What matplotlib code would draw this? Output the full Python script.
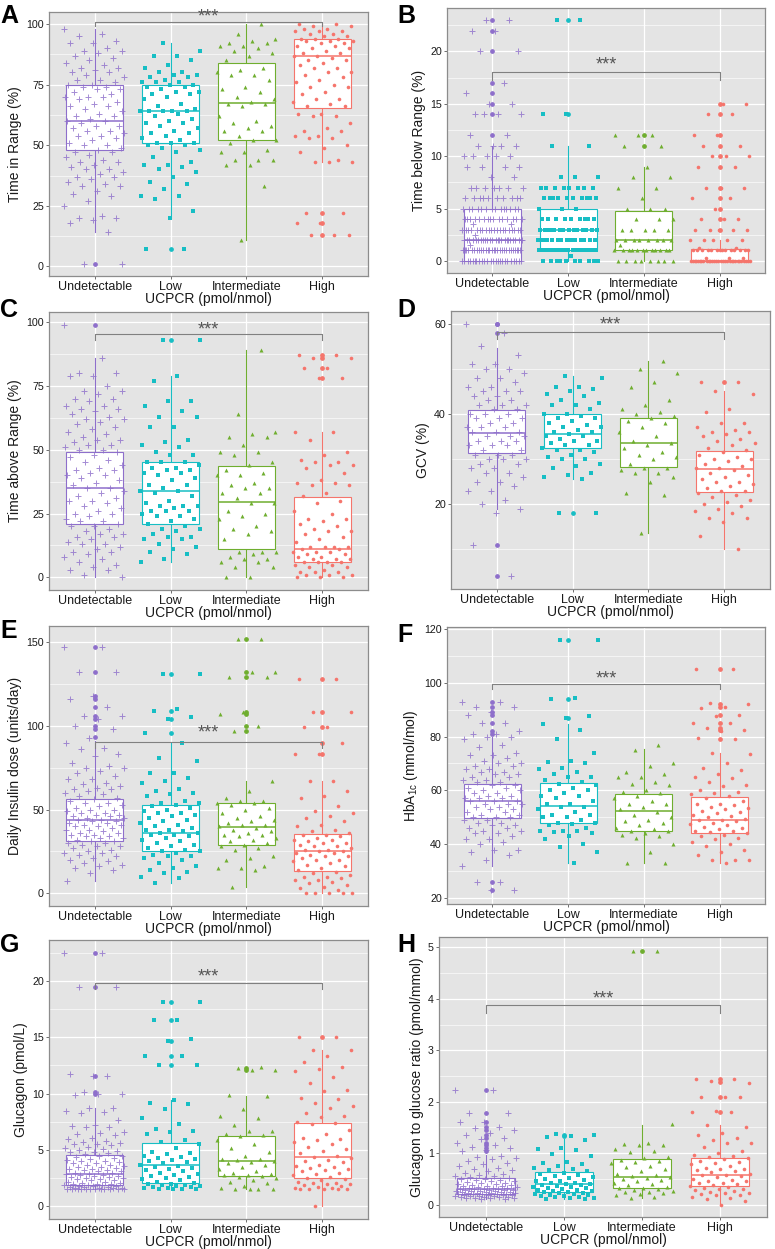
import numpy as np
import matplotlib.pyplot as plt

plt.rcParams['font.family'] = ['Liberation Sans', 'DejaVu Sans']
plt.rcParams['mathtext.fontset'] = 'custom'
plt.rcParams['mathtext.rm'] = 'Liberation Sans'

groups = ['Undetectable', 'Low', 'Intermediate', 'High']
colors = ['#8E6FCB', '#17BEC4', '#6FAE2F', '#F5756C']
markers = ['+', 's', '^', 'o']

# box stats per group: [whisker low, q1, median, q3, whisker high]
# ---------- A: time in range ----------
tir_und = [98, 96, 95, 93, 92, 92, 90, 89, 89, 88, 87, 86, 85, 84, 83, 82, 82, 81, 80, 80, 79, 78, 77, 77,
           76, 75, 75, 74, 74, 73, 73, 72, 71, 70, 70, 70, 69, 68, 67, 66, 66, 65, 64, 63, 62, 62, 61, 60,
           60, 59, 58, 58, 57, 56, 56, 55, 54, 54, 53, 52, 51, 50, 50, 49, 48, 47, 47, 46, 45, 44, 43, 43,
           42, 41, 40, 40, 39, 38, 37, 37, 36, 35, 34, 33, 33, 31, 30, 29, 27, 25, 21, 20, 20, 19, 18, 14, 1, 1]
tir_low = [92, 89, 87, 87, 85, 83, 82, 80, 80, 79, 79, 78, 78, 77, 76, 76, 76, 75, 75, 74, 74, 73, 72, 72,
           71, 71, 70, 69, 67, 66, 65, 64, 64, 64, 64, 64, 63, 62, 61, 60, 59, 59, 58, 57, 56, 55, 55, 54,
           53, 52, 51, 51, 51, 50, 50, 49, 48, 47, 45, 43, 42, 42, 41, 40, 39, 37, 35, 34, 32, 29, 29, 28,
           23, 20, 7, 7]
tir_int = [100, 96, 94, 93, 92, 92, 91, 91, 90, 89, 88, 87, 85, 82, 81, 80, 79, 79, 77, 74, 73, 72, 70,
           69, 68, 67, 67, 66, 62, 60, 59, 58, 57, 56, 56, 54, 52, 52, 51, 48, 47, 47, 44, 44, 44, 42, 42, 33, 11]
tir_high = [100, 100, 99, 99, 98, 98, 97, 97, 97, 96, 96, 95, 95, 94, 94, 94, 93, 93, 93, 92, 92, 91, 91,
            90, 90, 89, 88, 88, 87, 87, 86, 85, 85, 84, 83, 82, 82, 80, 80, 79, 78, 77, 76, 75, 74, 74, 72,
            71, 69, 69, 68, 67, 66, 66, 63, 63, 62, 62, 59, 57, 56, 56, 54, 54, 53, 53, 50, 49, 47, 44, 43,
            43, 43, 22, 22, 18, 18, 13, 13, 13]
tir_box = [[14, 48, 60, 75, 98], [20, 51, 64, 75, 92], [11, 52, 67.5, 84, 100], [43, 65.5, 87, 94, 100]]
tir_out = [[1], [7], [], [22, 18, 13]]

# ---------- B: time below range (integer values, with counts) ----------
tbr_und_vals = [0, 1, 1.5, 2, 2.5, 3, 3.5, 4, 5, 6, 7, 8, 9, 10, 11, 12, 14, 15, 16, 17, 20, 22, 23]
tbr_und_cnts = [24, 28, 1, 25, 1, 20, 2, 15, 14, 10, 7, 2, 4, 5, 4, 2, 4, 2, 1, 1, 2, 2, 2]
tbr_low_vals = [0, 0.5, 1, 2, 3, 4, 5, 6, 7, 8, 11, 14, 23]
tbr_low_cnts = [10, 1, 20, 14, 14, 9, 3, 10, 8, 3, 2, 2, 2]
tbr_int_vals = [0, 1, 1.5, 2, 3, 4, 5, 6, 7, 8, 9, 11, 12]
tbr_int_cnts = [8, 12, 1, 8, 5, 3, 3, 1, 2, 2, 1, 2, 3]
tbr_high_vals = [0, 0.3, 1, 1.2, 2, 3, 4, 5, 6, 7, 9, 10, 11, 12, 14, 15]
tbr_high_cnts = [30, 3, 14, 2, 5, 5, 3, 1, 2, 3, 2, 3, 2, 2, 2, 2]
tbr_box = [[0, 0, 2, 5, 11], [0, 1, 3, 5, 11], [0, 1, 2, 4.75, 9], [0, 0, 0, 1.1, 2]]
tbr_out = [[12, 14, 15, 16, 17, 20, 22, 23], [14, 23], [11, 12], [3, 4, 5, 6, 7, 9, 10, 11, 12, 14, 15]]

# ---------- C: time above range ----------
tar_und = [99, 86, 80, 80, 79, 79, 75, 73, 73, 72, 70, 70, 69, 67, 67, 66, 66, 65, 64, 63, 62, 62, 61, 60,
           59, 58, 57, 56, 55, 54, 54, 53, 52, 52, 51, 50, 50, 49, 48, 47, 46, 45, 44, 43, 42, 42, 41, 40,
           40, 39, 38, 37, 36, 35, 35, 34, 33, 32, 31, 30, 30, 29, 28, 27, 26, 25, 25, 24, 23, 22, 22, 21,
           20, 20, 19, 18, 17, 17, 16, 16, 15, 14, 13, 13, 12, 11, 10, 10, 9, 8, 7, 6, 5, 4, 3, 3, 1, 0]
tar_low = [93, 93, 79, 77, 69, 69, 67, 65, 63, 63, 59, 59, 54, 53, 52, 51, 49, 48, 48, 45, 45, 45, 44, 43,
           43, 42, 42, 41, 41, 40, 39, 38, 36, 36, 35, 34, 34, 33, 32, 30, 29, 28, 28, 28, 27, 26, 26, 26,
           25, 24, 24, 23, 22, 21, 20, 19, 19, 18, 17, 16, 16, 15, 15, 13, 12, 11, 10, 9, 7, 6]
tar_int = [89, 64, 57, 56, 55, 55, 52, 49, 49, 48, 45, 44, 42, 41, 40, 40, 37, 36, 35, 35, 33, 33, 31, 29,
           29, 26, 25, 24, 23, 20, 19, 18, 17, 15, 10, 10, 10, 9, 8, 7, 7, 6, 6, 4, 4, 0, 0]
tar_high = [87, 87, 86, 86, 82, 82, 78, 78, 57, 57, 54, 49, 48, 46, 45, 45, 44, 44, 43, 41, 38, 37, 37,
            36, 36, 33, 32, 30, 29, 26, 25, 23, 23, 22, 21, 20, 19, 18, 18, 17, 16, 15, 14, 12, 12, 12, 12,
            11, 11, 10, 10, 10, 9, 9, 8, 8, 7, 7, 7, 6, 6, 6, 6, 5, 5, 4, 4, 3, 2, 2, 2, 1, 1, 1, 0, 0, 0]
tar_box = [[0, 21, 35, 49, 86], [6, 21, 34, 45, 79], [0, 11, 29.5, 43.5, 89], [0, 6, 11, 31.5, 57]]
tar_out = [[99], [93], [], [78, 82, 86, 87]]

# ---------- D: GCV ----------
gcv_und = [60, 58, 55, 53, 51, 51, 50, 50, 49, 48, 48, 47, 46, 46, 45, 45, 45, 44, 44, 43, 43, 42, 42, 42,
           41, 41, 40, 40, 40, 39, 39, 39, 38, 38, 37, 37, 37, 36, 36, 36, 35, 35, 35, 34, 34, 34, 33, 33,
           33, 32, 32, 31, 31, 31, 30, 30, 30, 29, 29, 28, 28, 27, 27, 26, 25, 25, 24, 23, 23, 21, 20, 19,
           18, 11, 4]
gcv_low = [48.5, 48, 46, 46, 45.5, 45, 44.5, 44, 43, 42.5, 42, 42, 41, 40, 40, 39.5, 39, 39, 38.5, 38,
           37.5, 37, 37, 36.5, 36, 36, 35.5, 35, 35, 34.5, 34, 34, 33.5, 33, 33, 32.5, 32, 32, 31.5, 31,
           30.5, 30, 30, 29, 28.5, 28, 27, 26.5, 26, 25.5, 18, 18]
gcv_int = [51.7, 50, 49, 47, 46, 43, 42, 41, 40.5, 40, 39.5, 39, 38.5, 38, 37, 36, 35, 34, 33.5, 33, 32.5,
           31.5, 31, 30.5, 30, 29, 28, 28, 27.5, 27, 27, 26, 25, 22.5, 22, 13.5]
gcv_high = [47, 47, 45, 44.5, 41, 40.5, 38, 38, 37, 36.5, 36, 36, 35.5, 35, 34.5, 34, 33.5, 33, 32.5, 32,
            31.5, 31, 30.5, 30, 30, 29.5, 29, 28.5, 28, 28, 27.5, 27, 26.5, 26, 25.5, 25, 25, 24.5, 24,
            23.5, 23, 23, 22.5, 22, 21.5, 21, 20.5, 20, 19.5, 19, 18.5, 18, 17, 17, 16, 13, 10]
gcv_box = [[19, 31.3, 35.7, 40.9, 54.5], [25.5, 32.5, 35.5, 40, 48.5], [13.5, 28.3, 33.5, 39.2, 51.7],
           [10, 22.7, 27.9, 31.8, 45]]
gcv_out = [[60, 60, 58, 11, 4], [18], [], [47]]

# ---------- E: daily insulin dose ----------
ins_und = [147, 147, 132, 132, 118, 116, 111, 106, 106, 104, 100, 98, 93, 90, 87, 86, 83, 82, 78, 76, 75,
           75, 73, 72, 70, 68, 68, 66, 65, 64, 63, 62, 62, 61, 60, 59, 58, 57, 56, 55, 54, 54, 53, 52, 51,
           50, 50, 49, 48, 48, 47, 47, 46, 46, 45, 45, 44, 44, 43, 43, 42, 42, 41, 41, 40, 40, 39, 38, 38,
           37, 36, 36, 35, 35, 34, 34, 33, 33, 32, 31, 31, 30, 30, 29, 28, 28, 27, 26, 25, 24, 24, 23, 22,
           21, 20, 19, 18, 17, 16, 15, 14, 12, 7.5]
ins_low = [131, 131, 110, 109, 105, 104, 96, 90, 81, 79, 72, 72, 69, 67, 66, 62, 61, 60, 59, 58, 55, 54,
           54, 53, 52, 51, 50, 49, 48, 48, 47, 46, 45, 44, 43, 42, 41, 40, 39, 38, 38, 37, 36, 36, 35, 35,
           34, 33, 32, 31, 30, 29, 28, 27, 26, 25, 25, 24, 23, 22, 22, 21, 20, 18, 16, 15, 14, 13, 12, 10, 9, 6]
ins_int = [152, 152, 132, 132, 129, 129, 108, 107, 100, 97, 67, 61, 57, 55, 55, 54, 54, 53, 51, 50, 48, 46,
           45, 44, 43, 42, 41, 41, 40, 39, 38, 37, 36, 35, 35, 34, 33, 32, 31, 30, 29, 28, 27, 26, 22, 21,
           20, 16, 15, 15, 14, 4]
ins_high = [128, 128, 108, 108, 99, 99, 90, 83, 83, 67, 67, 61, 58, 57, 52, 49, 48, 46, 45, 43, 41, 40, 38,
            37, 36, 35, 35, 34, 33, 32, 32, 31, 30, 30, 29, 28, 28, 27, 26, 26, 25, 25, 24, 24, 23, 22, 22,
            21, 20, 20, 19, 18, 17, 16, 15, 14, 13, 12, 11, 10, 10, 9, 8, 8, 7, 6, 5, 4, 3, 2, 0, 0, 0, 0, 0]
ins_box = [[7.5, 31, 43.5, 56, 91], [6, 25.5, 36, 52.5, 90], [4, 29, 39.5, 54, 67], [0, 13.5, 25, 35.5, 67]]
ins_out = [[147, 132, 118, 116, 111, 106, 104, 100, 98, 93.5], [131, 109, 104, 96],
           [152, 132, 129, 108, 107, 100, 97], [128, 108, 99, 90, 83]]

# ---------- F: HbA1c ----------
hba_und = [93, 93, 91, 91, 89, 88, 85, 85, 82, 81, 81, 80, 80, 79, 77, 76, 74, 73, 73, 72, 71, 70, 70, 69,
           69, 68, 68, 67, 67, 66, 66, 65, 65, 64, 64, 63, 63, 62, 62, 61, 61, 60, 60, 59, 59, 58, 58, 57,
           57, 57, 56, 56, 56, 55, 55, 55, 54, 54, 53, 53, 52, 52, 51, 51, 50, 50, 50, 49, 49, 48, 48, 47,
           47, 46, 46, 45, 45, 44, 44, 43, 42, 42, 41, 40, 38, 38, 37, 36, 34, 32, 26, 26, 23, 23]
hba_low = [116, 116, 94.5, 94, 87.5, 87, 84.5, 82.5, 79, 74, 71, 70.5, 70, 68.5, 68, 67, 66, 65, 65, 64,
           63, 62.5, 62, 61, 60, 60, 59, 58, 58, 57, 56, 55, 55, 54, 54, 53, 52, 51, 51, 50, 50, 49, 48,
           48, 47.5, 47, 46, 45, 45, 45, 44.5, 44, 43, 42, 40, 39, 37, 33]
hba_int = [77, 75, 70, 69, 67, 66, 65, 65, 63, 62.5, 62, 60, 59.5, 59, 58, 57, 56, 55, 55, 54, 53, 52, 51,
           50, 49, 48.5, 48, 47, 46, 45.5, 45, 45, 44, 43.5, 43, 42.5, 40, 37, 33, 33]
hba_high = [105, 105, 92.5, 92, 91, 90.5, 88, 87.5, 85, 85, 83, 82.5, 82, 79.5, 79, 74, 73.5, 70, 68.5,
            67.5, 66, 65, 64.5, 63, 62, 61.5, 60, 59.5, 59, 58.5, 58, 57, 56, 55, 55, 54.5, 54, 53.5, 53,
            52.5, 52, 51.5, 51, 50.5, 50, 49.5, 49, 49, 48.5, 48, 47.5, 47, 46.5, 46, 45.5, 45, 45, 44.5,
            44, 43.5, 43, 42.5, 42, 41, 40, 39.5, 38, 37, 36, 34, 34, 34, 33]
hba_box = [[32, 49.8, 55.9, 62.3, 80], [33, 48, 54.3, 62.8, 84.5], [33, 44.8, 52.5, 58.8, 75.4],
           [33, 44, 49, 57.4, 74]]
hba_out = [[93, 91, 89, 88, 85, 82, 81, 26, 23], [116, 94, 87], [], [105, 92, 91, 88, 85, 83, 82.5, 79]]

# ---------- G: glucagon ----------
glu_und = [22.5, 22.5, 19.5, 19.5, 11.6, 11.7, 11.6, 10.1, 10, 10, 9.9, 8.7, 8.7, 8.5, 8.4, 8.3, 7.7, 7.2,
           7.1, 7, 7, 6.6, 6.5, 6.4, 6.3, 6.1, 6, 5.8, 5.7, 5.6, 5.5, 5.5, 5.4, 5.3, 5.2, 5.1, 5, 4.9, 4.8,
           4.8, 4.7, 4.6, 4.5, 4.5, 4.4, 4.3, 4.2, 4.1, 4, 4, 3.9, 3.8, 3.8, 3.7, 3.7, 3.6, 3.5, 3.5, 3.4,
           3.3, 3.3, 3.2, 3.2, 3.1, 3.1, 3, 3, 2.9, 2.9, 2.8, 2.8, 2.7, 2.7, 2.6, 2.6, 2.5, 2.5, 2.4, 2.4,
           2.3, 2.3, 2.2, 2.2, 2.1, 2.1, 2, 2, 2, 1.9, 1.9, 1.9, 1.8, 1.8, 1.8, 1.7, 1.7, 1.7, 1.6, 1.6,
           1.6, 1.6, 1.5, 1.5, 1.5, 1.5, 1.5, 1.5, 1.5, 1.5, 1.5, 1.5, 1.5, 1.5]
glu_low = [18.1, 18.1, 16.5, 16.5, 14.8, 14.7, 13.3, 13.3, 12.5, 12.5, 9.4, 9.2, 9.1, 8.6, 7.8, 7.3, 6.9,
           6.7, 6.6, 6.4, 5.9, 5.7, 5.5, 5.2, 4.8, 4.7, 4.6, 4.5, 4.4, 4.3, 4.2, 4.1, 4, 3.9, 3.8, 3.7,
           3.6, 3.5, 3.4, 3.3, 3.2, 3.1, 3, 2.9, 2.8, 2.7, 2.6, 2.5, 2.4, 2.3, 2.2, 2.1, 2, 2, 1.9, 1.9,
           1.8, 1.8, 1.7, 1.7, 1.6, 1.6, 1.5, 1.5, 1.5, 1.5]
glu_int = [12.4, 12.3, 12.1, 12.1, 9.9, 9.8, 8.6, 8, 7.8, 7.2, 6.7, 6.7, 6.4, 6.3, 6.2, 5.9, 5.5, 5.2, 4.8,
           4.5, 4.2, 4.2, 4.1, 4, 3.9, 3.8, 3.7, 3.5, 3.3, 3.1, 3, 2.9, 2.8, 2.8, 2.7, 2.6, 2.5, 2.3, 2.2,
           2.1, 1.8, 1.6, 1.5, 1.5, 1.5, 1.5]
glu_high = [15, 15, 13.9, 13.9, 13.3, 12.8, 12.4, 12.2, 12, 11.5, 10.9, 10.3, 10.2, 9.6, 9.5, 9.2, 8.9, 8.7,
            8.3, 8, 7.9, 7.5, 7.4, 7.3, 6.8, 6.4, 6.1, 6, 5.9, 5.7, 5.5, 5.3, 5.1, 4.9, 4.7, 4.5, 4.4, 4.3,
            4.1, 4, 3.9, 3.7, 3.6, 3.5, 3.4, 3.3, 3.2, 3.1, 3, 2.9, 2.8, 2.6, 2.5, 2.4, 2.3, 2.2, 2.1, 2.1,
            2, 2, 1.9, 1.8, 1.7, 1.6, 1.6, 1.5, 1.5, 1.5, 1.5, 1.5, 0]
glu_box = [[1.5, 1.9, 2.9, 4.55, 8.7], [1.5, 2.1, 3.65, 5.65, 9.4], [1.5, 2.7, 4, 6.25, 9.8],
           [0, 2.5, 4.35, 7.4, 13.9]]
glu_out = [[22.5, 19.5, 11.6, 10.1, 10], [18.1, 16.5, 14.7, 13.3, 12.5], [12.3, 12.1], [15]]

# ---------- H: glucagon to glucose ratio ----------
rat_und = [2.23, 2.23, 1.78, 1.78, 1.6, 1.61, 1.5, 1.48, 1.45, 1.4, 1.35, 1.3, 1.28, 1.2, 1.15, 1.12, 1.1,
           1.07, 1.05, 0.95, 0.93, 0.9, 0.88, 0.85, 0.8, 0.78, 0.75, 0.72, 0.7, 0.68, 0.65, 0.62, 0.6, 0.58,
           0.56, 0.55, 0.53, 0.52, 0.5, 0.49, 0.48, 0.47, 0.46, 0.45, 0.44, 0.43, 0.42, 0.41, 0.4, 0.39,
           0.38, 0.37, 0.36, 0.36, 0.35, 0.34, 0.33, 0.33, 0.32, 0.31, 0.31, 0.3, 0.3, 0.29, 0.29, 0.28,
           0.28, 0.27, 0.27, 0.26, 0.26, 0.25, 0.25, 0.24, 0.24, 0.23, 0.23, 0.22, 0.22, 0.21, 0.21, 0.2,
           0.2, 0.2, 0.19, 0.19, 0.18, 0.18, 0.17, 0.17, 0.16, 0.16, 0.15, 0.15, 0.14, 0.14, 0.13, 0.13,
           0.12, 0.12, 0.11, 0.1]
rat_low = [1.37, 1.36, 1.34, 1.32, 1.25, 1.1, 1.09, 1.06, 0.98, 0.95, 0.82, 0.8, 0.78, 0.75, 0.72, 0.7,
           0.67, 0.65, 0.62, 0.6, 0.58, 0.56, 0.54, 0.52, 0.5, 0.48, 0.46, 0.45, 0.43, 0.42, 0.41, 0.4,
           0.39, 0.38, 0.36, 0.35, 0.34, 0.33, 0.32, 0.3, 0.29, 0.28, 0.27, 0.26, 0.25, 0.24, 0.23, 0.22,
           0.21, 0.2, 0.19, 0.18, 0.17, 0.16, 0.15, 0.14, 0.13, 0.12, 0.11, 0.1]
rat_int = [4.93, 4.93, 1.56, 1.2, 1.18, 1.16, 1.15, 1.09, 1.05, 1.02, 0.92, 0.9, 0.87, 0.85, 0.83, 0.8,
           0.76, 0.74, 0.7, 0.65, 0.6, 0.58, 0.55, 0.53, 0.52, 0.5, 0.48, 0.45, 0.42, 0.4, 0.38, 0.35,
           0.33, 0.32, 0.3, 0.28, 0.27, 0.25, 0.24, 0.22, 0.2, 0.18, 0.14, 0.12]
rat_high = [2.44, 2.44, 2.4, 2.36, 2.1, 2.1, 2.1, 1.82, 1.8, 1.8, 1.55, 1.5, 1.4, 1.35, 1.3, 1.25, 1.2,
            1.2, 1.12, 1.05, 1.0, 0.97, 0.95, 0.92, 0.9, 0.88, 0.85, 0.82, 0.8, 0.78, 0.75, 0.72, 0.7,
            0.7, 0.68, 0.65, 0.63, 0.6, 0.58, 0.57, 0.55, 0.53, 0.5, 0.48, 0.46, 0.45, 0.43, 0.42, 0.4,
            0.38, 0.37, 0.35, 0.33, 0.31, 0.3, 0.28, 0.26, 0.25, 0.23, 0.22, 0.2, 0.19, 0.18, 0.15, 0.12,
            0.1, 0.08, 0]
rat_box = [[0.1, 0.21, 0.31, 0.52, 0.96], [0.1, 0.24, 0.41, 0.63, 1.27], [0.12, 0.33, 0.53, 0.88, 1.55],
           [0, 0.37, 0.57, 0.9, 1.55]]
rat_out = [[2.23, 1.78, 1.6, 1.5, 1.45, 1.35, 1.3, 1.2, 1.15, 1.1, 1.05], [1.36, 1.34], [4.93],
           [2.44, 2.38, 2.1, 1.8]]

tbr_pts = [np.repeat(tbr_und_vals, tbr_und_cnts), np.repeat(tbr_low_vals, tbr_low_cnts),
           np.repeat(tbr_int_vals, tbr_int_cnts), np.repeat(tbr_high_vals, tbr_high_cnts)]

fig = plt.figure(figsize=(7.75, 12.49), dpi=100)
W, H = 775, 1249


def panel(box_px, letter, letter_xy, pts, box, outl, ylim, major, minor, ylabel, brk):
    l, r, t, b = box_px
    ax = fig.add_axes([l / W, 1 - b / H, (r - l) / W, (b - t) / H])
    ax.set_facecolor('#E4E4E4')
    ax.set_axisbelow(True)
    stats = []
    for s, o in zip(box, outl):
        stats.append(dict(whislo=s[0], q1=s[1], med=s[2], q3=s[3], whishi=s[4], fliers=o))
    bp = ax.bxp(stats, positions=[1, 2, 3, 4], widths=0.75, showcaps=False, patch_artist=True)
    for i, c in enumerate(colors):
        bp['boxes'][i].set(facecolor='white', edgecolor=c, linewidth=0.8, zorder=2)
        bp['medians'][i].set(color=c, linewidth=1.1, zorder=2.1)
        for w in bp['whiskers'][2 * i:2 * i + 2]:
            w.set(color=c, linewidth=0.8, zorder=1.9)
        bp['fliers'][i].set(marker='o', markerfacecolor=c, markeredgecolor=c, markersize=2.4, zorder=2.2)
    for i, vals in enumerate(pts):
        v = np.asarray(vals, dtype=float)
        off = ((np.arange(len(v)) * 0.6180339887 + 0.37 * i) % 1 - 0.5) * 0.8
        if markers[i] == '+':
            ax.plot(1 + i + off, v, ls='none', marker='+', color=colors[i], markersize=5,
                    markeredgewidth=0.7, alpha=0.8, zorder=3)
        else:
            ms = {'s': 2.6, '^': 2.9, 'o': 2.6}[markers[i]]
            ax.plot(1 + i + off, v, ls='none', marker=markers[i], color=colors[i], markersize=ms,
                    markeredgewidth=0, zorder=3)
    # significance bracket
    y0, y1, ys = brk
    ax.plot([1, 1, 4, 4], [y1, y0, y0, y1], color='#808080', lw=0.8, zorder=4)
    ax.annotate('***', xy=(2.5, ys), xytext=(0, -3), textcoords='offset points',
                ha='center', va='center', fontsize=13, color='#555555', zorder=4)
    ax.set_xlim(0.4, 4.6)
    ax.set_ylim(*ylim)
    ax.set_yticks(major)
    ax.set_yticks(minor, minor=True)
    ax.set_yticklabels([f'{m:g}' for m in major], fontsize=7.7, color='#1a1a1a')
    ax.set_xticks([1, 2, 3, 4])
    ax.set_xticklabels(groups, fontsize=9, color='#1a1a1a')
    ax.tick_params(axis='both', which='major', length=2.2, width=0.6, color='#555555', pad=1.5)
    ax.tick_params(axis='y', which='minor', length=0)
    ax.grid(which='major', color='white', lw=0.9)
    ax.grid(which='minor', axis='y', color='white', lw=0.45)
    for sp in ax.spines.values():
        sp.set_color('#8C8C8C')
        sp.set_linewidth(0.9)
    ax.set_xlabel('UCPCR (pmol/nmol)', fontsize=10, labelpad=-0.5, color='#1a1a1a')
    ax.set_ylabel(ylabel, fontsize=10, labelpad=3, color='#1a1a1a')
    fig.text(letter_xy[0] / W, 1 - letter_xy[1] / H, letter, fontsize=18, fontweight='bold',
             ha='left', va='top')
    return ax


panel((49, 368, 12, 276), 'A', (0, 4), [tir_und, tir_low, tir_int, tir_high], tir_box, tir_out,
      (-3.95, 104.95), [0, 25, 50, 75, 100], [12.5, 37.5, 62.5, 87.5], 'Time in Range (%)',
      (101, 99, 104.5))
panel((447, 765, 8, 273), 'B', (397, 4), tbr_pts, tbr_box, tbr_out,
      (-1.15, 24.15), [0, 5, 10, 15, 20], [2.5, 7.5, 12.5, 17.5, 22.5], 'Time below Range (%)',
      (18, 17.3, 19.1))
panel((49, 368, 312, 590), 'C', (0, 298), [tar_und, tar_low, tar_int, tar_high], tar_box, tar_out,
      (-4.95, 103.95), [0, 25, 50, 75, 100], [12.5, 37.5, 62.5, 87.5], 'Time above Range (%)',
      (95.3, 93, 98.5))
panel((451, 770, 311, 589), 'D', (397, 298), [gcv_und, gcv_low, gcv_int, gcv_high], gcv_box, gcv_out,
      (1.2, 62.8), [20, 40, 60], [10, 30, 50], 'GCV (%)',
      (58.2, 56.7, 60.6))
panel((49, 368, 626, 906), 'E', (0, 619), [ins_und, ins_low, ins_int, ins_high], ins_box, ins_out,
      (-7.6, 159.6), [0, 50, 100, 150], [25, 75, 125], 'Daily Insulin dose (units/day)',
      (90.3, 87, 98))
panel((447, 765, 627, 904), 'F', (397, 623), [hba_und, hba_low, hba_int, hba_high], hba_box, hba_out,
      (17.8, 120.7), [20, 40, 60, 80, 100, 120], [30, 50, 70, 90, 110],
      r'HbA$_{\mathrm{1c}}$ (mmol/mol)', (99.6, 97.5, 103))
panel((49, 368, 940, 1219), 'G', (0, 933), [glu_und, glu_low, glu_int, glu_high], glu_box, glu_out,
      (-1.125, 23.625), [0, 5, 10, 15, 20], [2.5, 7.5, 12.5, 17.5, 22.5], 'Glucagon (pmol/L)',
      (19.8, 19.3, 20.7))
panel((439, 767, 937, 1217), 'H', (397, 933), [rat_und, rat_low, rat_int, rat_high], rat_box, rat_out,
      (-0.24, 5.2), [0, 1, 2, 3, 4, 5], [0.5, 1.5, 2.5, 3.5, 4.5], 'Glucagon to glucose ratio (pmol/mmol)',
      (3.87, 3.72, 4.08))

fig.savefig('out.png', dpi=100)
